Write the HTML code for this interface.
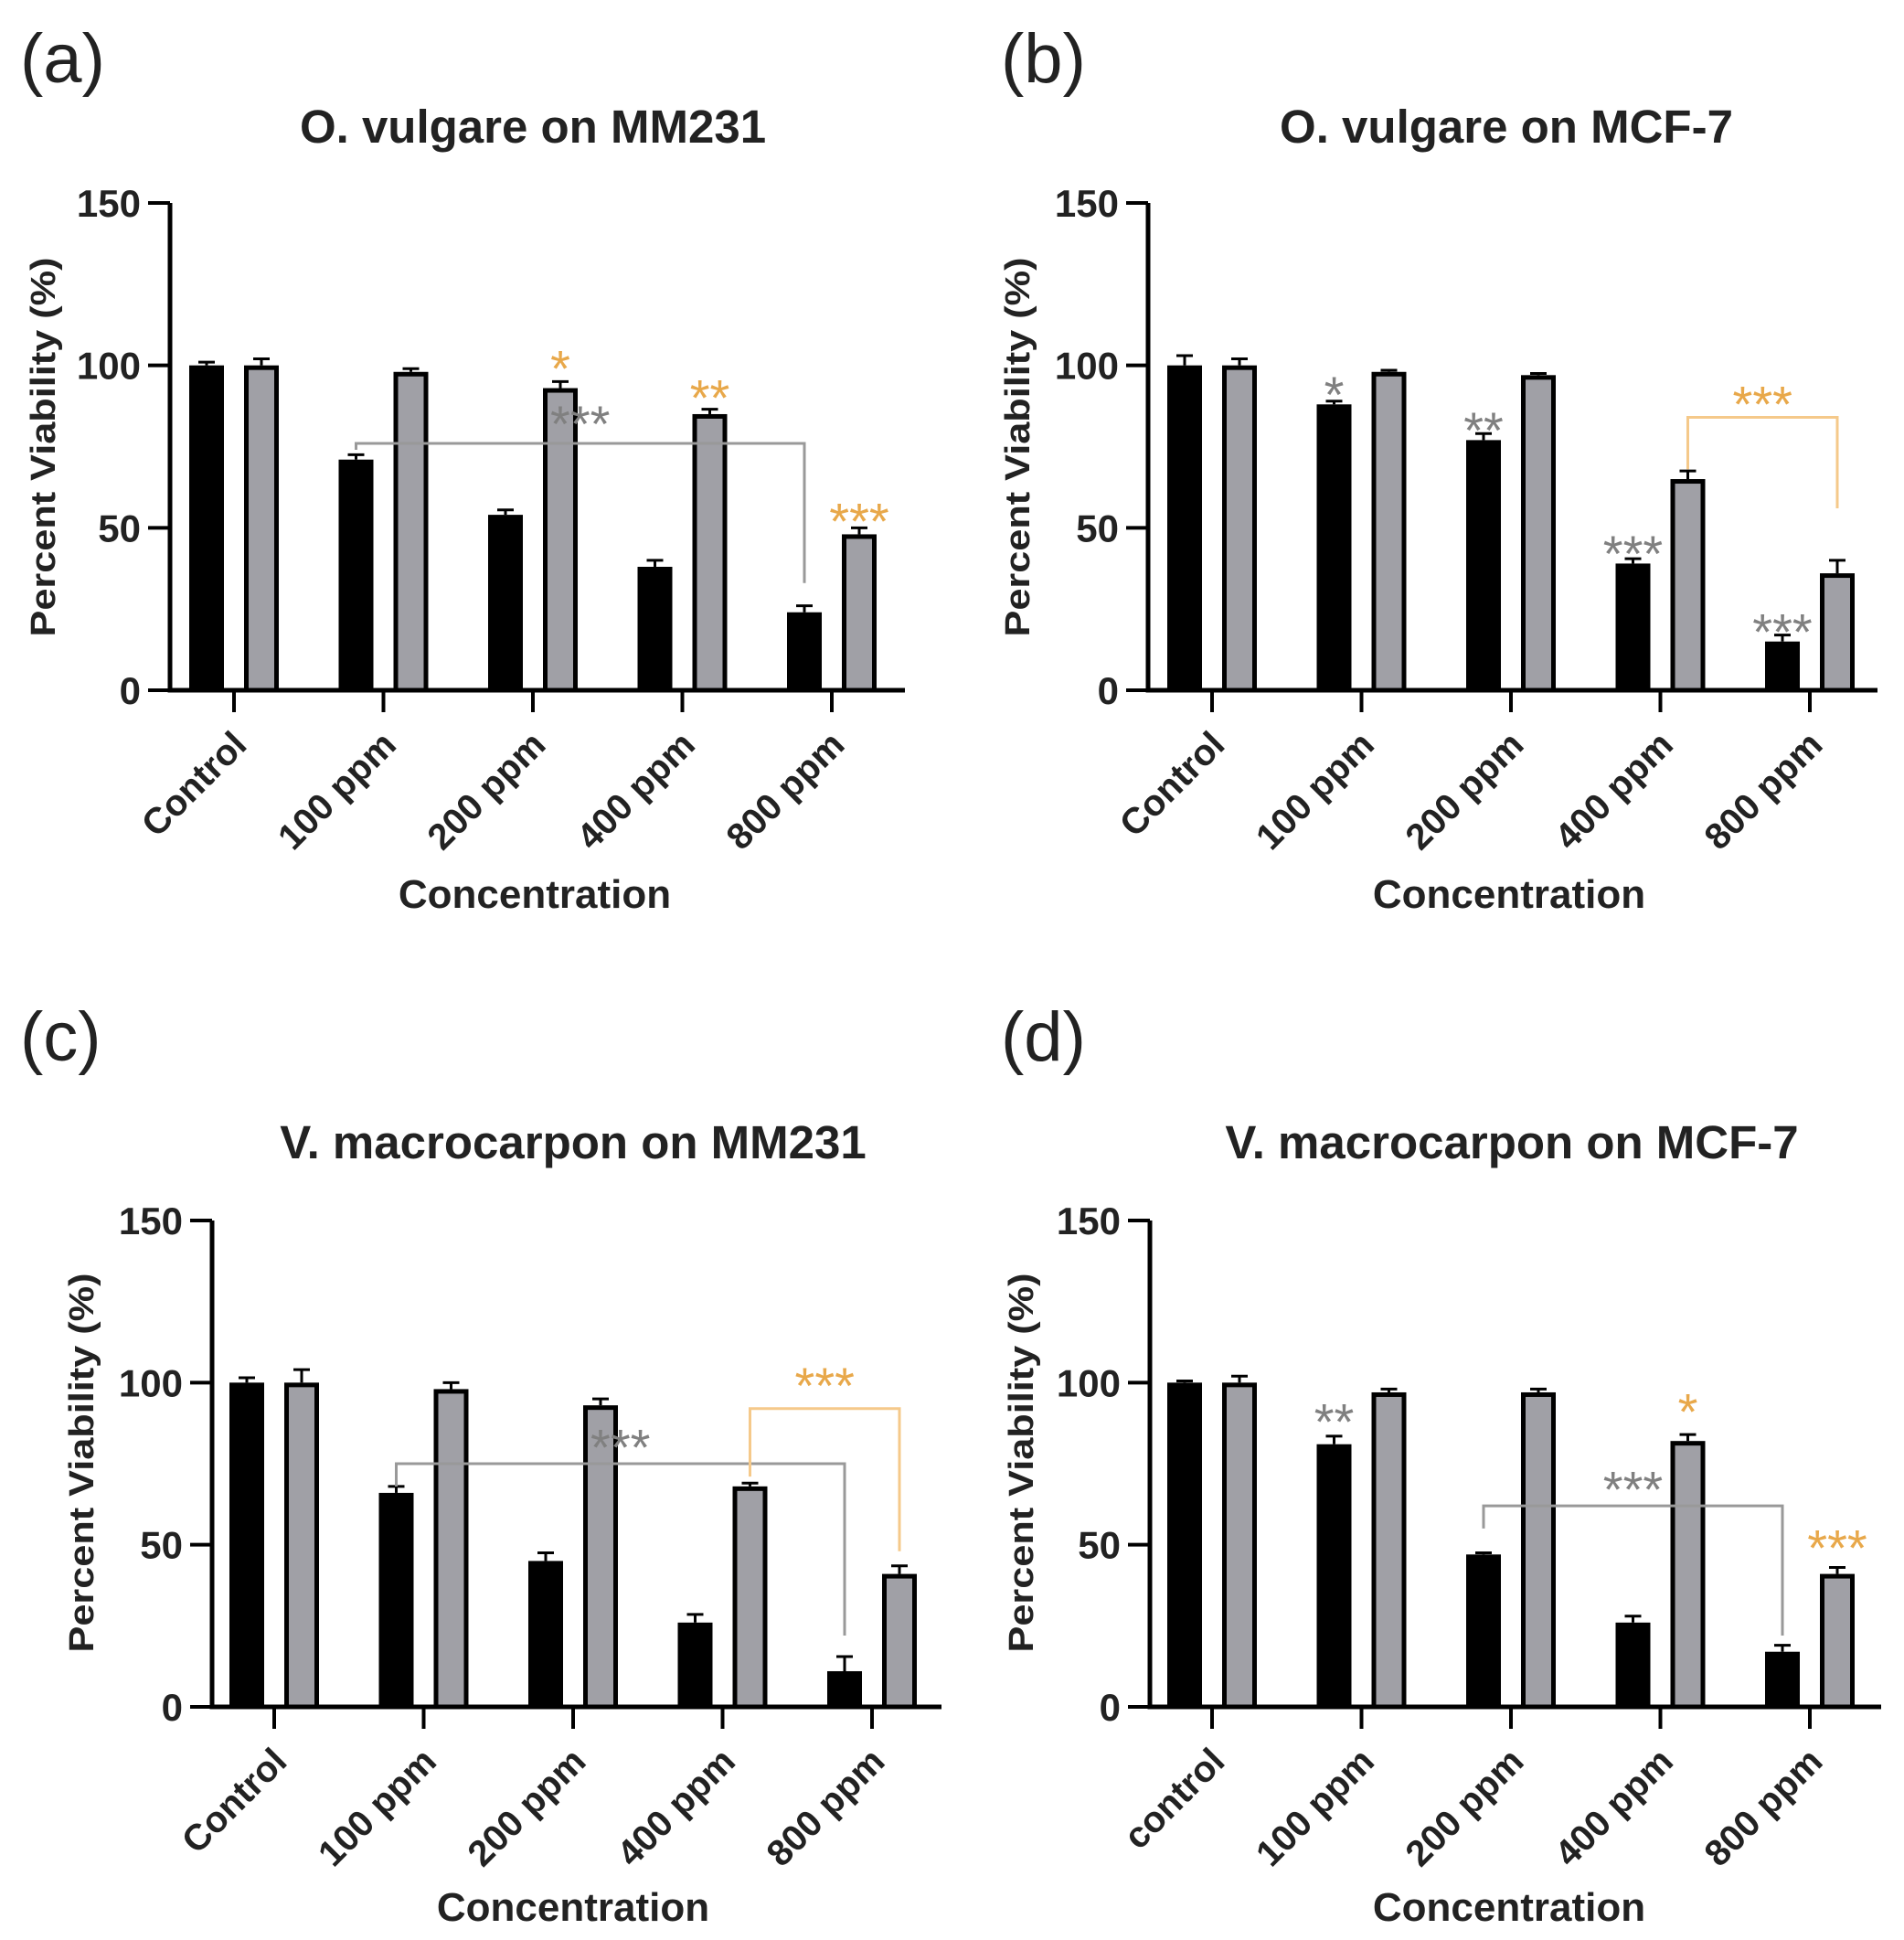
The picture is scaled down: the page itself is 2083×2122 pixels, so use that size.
<!DOCTYPE html>
<html><head><meta charset="utf-8"><style>
html,body{margin:0;padding:0;background:#fff}
svg{display:block}
text{font-family:"Liberation Sans",Arial,sans-serif}
</style></head>
<body>
<svg id="fig" width="2083" height="2122" viewBox="0 0 2083 2122" xmlns="http://www.w3.org/2000/svg"></svg>
<script>
const categoriesA = ["Control","100 ppm","200 ppm","400 ppm","800 ppm"];
const categoriesD = ["control","100 ppm","200 ppm","400 ppm","800 ppm"];
const yTicks = [0,50,100,150];
const aBlack = [100,71,54,38,24];  const aBlackErr = [1,1.5,1.5,2,2];
const aGray  = [100,98,93,85,48];  const aGrayErr  = [2,1,2,1.5,2];
const bBlack = [100,88,77,39,15];  const bBlackErr = [3,1,2,1.5,2];
const bGray  = [100,98,97,65,36];  const bGrayErr  = [2,0.5,0.5,2.5,4];
const cBlack = [100,66,45,26,11];  const cBlackErr = [1.5,2,2.5,2.5,4.5];
const cGray  = [100,98,93,68,41];  const cGrayErr  = [4,2,2,1,2.5];
const dBlack = [100,81,47,26,17];  const dBlackErr = [0.5,2.5,0.5,2,2];
const dGray  = [100,97,97,82,41];  const dGrayErr  = [2,1,1,2,2];

const NS="http://www.w3.org/2000/svg";
const svg=document.getElementById('fig');
function mk(tag,attrs,parent,txt){const e=document.createElementNS(NS,tag);for(const k in attrs)e.setAttribute(k,attrs[k]);if(txt!==undefined)e.textContent=txt;(parent||svg).appendChild(e);return e;}

const ORANGE="#e8a84a", GREYS="#808080";
const panels=[
 {id:'a',label:'(a)',lx:22,ly:90,title:'O. vulgare on MM231',tx:583,ty:156,ax:186,top:222,bot:755,end:990,x0:256,cats:categoriesA,bk:aBlack,be:aBlackErr,gr:aGray,ge:aGrayErr,ylx:60,yly:489,cx:585,cy:993,
  ann:[{s:'*',c:ORANGE,ii:2,g:1,v:102},{s:'**',c:ORANGE,ii:3,g:1,v:93},{s:'***',c:ORANGE,ii:4,g:1,v:55}],
  br:[{c:GREYS,i1:1,s1:0,i2:4,s2:0,v:76,d1:74,d2:33,lab:'***',labv:85}]},
 {id:'b',label:'(b)',lx:1095,ly:90,title:'O. vulgare on MCF-7',tx:1648,ty:156,ax:1256,top:222,bot:755,end:2054,x0:1326,cats:categoriesA,bk:bBlack,be:bBlackErr,gr:bGray,ge:bGrayErr,ylx:1126,yly:489,cx:1651,cy:993,
  ann:[{s:'*',c:GREYS,ii:1,g:0,v:94},{s:'**',c:GREYS,ii:2,g:0,v:83},{s:'***',c:GREYS,ii:3,g:0,v:45},{s:'***',c:GREYS,ii:4,g:0,v:21}],
  br:[{c:"#f5c98a",i1:3,s1:1,i2:4,s2:1,v:84,d1:68,d2:56,lab:'***',labC:ORANGE,labv:91}]},
 {id:'c',label:'(c)',lx:22,ly:1160,title:'V. macrocarpon on MM231',tx:627,ty:1267,ax:232,top:1335,bot:1867,end:1030,x0:300,cats:categoriesA,bk:cBlack,be:cBlackErr,gr:cGray,ge:cGrayErr,ylx:102,yly:1600,cx:627,cy:2101,
  ann:[],
  br:[{c:GREYS,i1:1,s1:0,i2:4,s2:0,v:75,d1:68,d2:22,lab:'***',labv:83},{c:"#f5c98a",i1:3,s1:1,i2:4,s2:1,v:92,d1:71,d2:48,lab:'***',labC:ORANGE,labv:102}]},
 {id:'d',label:'(d)',lx:1095,ly:1160,title:'V. macrocarpon on MCF-7',tx:1654,ty:1267,ax:1258,top:1335,bot:1867,end:2058,x0:1326,cats:categoriesD,bk:dBlack,be:dBlackErr,gr:dGray,ge:dGrayErr,ylx:1130,yly:1600,cx:1651,cy:2101,
  ann:[{s:'**',c:GREYS,ii:1,g:0,v:91},{s:'*',c:ORANGE,ii:3,g:1,v:94},{s:'***',c:ORANGE,ii:4,g:1,v:52}],
  br:[{c:GREYS,i1:2,s1:0,i2:4,s2:0,v:62,d1:55,d2:22,lab:'***',labv:70}]}
];

const SP=163.5, OFF=30, BW=38;
panels.forEach(p=>{
  const g=mk('g',{});
  
  
  const y=v=>p.bot-(v/150)*(p.bot-p.top);
  const xc=i=>p.x0+i*SP;
  const lab=mk('text',{x:p.lx,y:p.ly,'font-size':76,fill:'#222'},g,p.label);
  
  
  const t=mk('text',{x:p.tx,y:p.ty,'font-size':51,'font-weight':'bold','text-anchor':'middle',fill:'#222'},g,p.title);
  
  
  for(let i=0;i<5;i++){
    [[p.bk,p.be,-OFF,'#000'],[p.gr,p.ge,OFF,'#a0a0a6']].forEach((s,k)=>{
      const v=s[0][i], e=s[1][i], cx=xc(i)+s[2];
      const ey=y(v+e);
      const eb=mk('line',{x1:cx,x2:cx,y1:y(v),y2:ey,stroke:'#000','stroke-width':3},g);
      
      
      mk('line',{x1:cx-9,x2:cx+9,y1:ey,y2:ey,stroke:'#000','stroke-width':3},g);
      const r=mk('rect',{x:cx-BW/2+2.5,y:y(v)+2.5,width:BW-5,height:p.bot-y(v)-2.5,fill:s[3],stroke:'#000','stroke-width':5},g);
      
      
    });
  }
  const ya=mk('line',{x1:p.ax,x2:p.ax,y1:p.top,y2:p.bot+2.5,stroke:'#000','stroke-width':5},g);
  
  
  const xa=mk('line',{x1:p.ax-2.5,x2:p.end,y1:p.bot,y2:p.bot,stroke:'#000','stroke-width':5},g);
  
  
  yTicks.forEach(v=>{
    mk('line',{x1:p.ax-24,x2:p.ax,y1:y(v),y2:y(v),stroke:'#000','stroke-width':4},g);
    const tl=mk('text',{x:p.ax-32,y:y(v)+15,'font-size':42,'font-weight':'bold','text-anchor':'end',fill:'#222'},g,v);
    
    
  });
  p.cats.forEach((c,i)=>{
    mk('line',{x1:xc(i),x2:xc(i),y1:p.bot,y2:p.bot+24,stroke:'#000','stroke-width':4},g);
    const ax=xc(i)+16, ay=p.bot+62;
    const tl=mk('text',{x:ax,y:ay,'font-size':40,'font-weight':'bold','text-anchor':'end',fill:'#222',transform:`rotate(-45 ${ax} ${ay})`},g,c);
    
    
  });
  const yl=mk('text',{x:p.ylx,y:p.yly,'font-size':38,'font-weight':'bold','text-anchor':'middle',fill:'#222',transform:`rotate(-90 ${p.ylx} ${p.yly})`,textLength:415,lengthAdjust:'spacingAndGlyphs'},g,'Percent Viability (%)');
  
  
  const xl=mk('text',{x:p.cx,y:p.cy,'font-size':44,'font-weight':'bold','text-anchor':'middle',fill:'#222'},g,'Concentration');
  
  
  p.br.forEach(b=>{
    const x1=xc(b.i1)+(b.s1?OFF:-OFF), x2=xc(b.i2)+(b.s2?OFF:-OFF);
    const pl=mk('polyline',{points:`${x1},${y(b.d1)} ${x1},${y(b.v)} ${x2},${y(b.v)} ${x2},${y(b.d2)}`,fill:'none',stroke:b.c==GREYS?'#999':b.c,'stroke-width':3},g);
    
    
    const st=mk('text',{x:(x1+x2)/2,y:y(b.labv)+30,'font-size':56,'text-anchor':'middle',fill:b.labC||GREYS},g,b.lab);
    
    
  });
  p.ann.forEach(a=>{
    const cx=xc(a.ii)+(a.g?OFF:-OFF);
    const st=mk('text',{x:cx,y:y(a.v)+30,'font-size':56,'text-anchor':'middle',fill:a.c},g,a.s);
    
    
  });
});
</script>
</body></html>
